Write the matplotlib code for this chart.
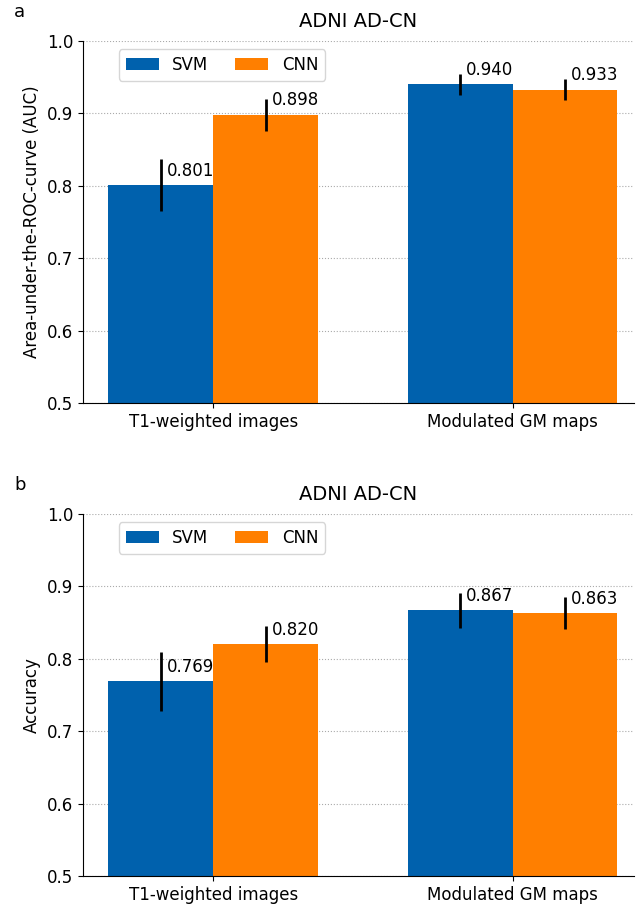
import numpy as np
import matplotlib
matplotlib.use("Agg")
import matplotlib.pyplot as plt

# Données
groupes = ["T1-weighted images", "Modulated GM maps"]
methodes = ["SVM", "CNN"]
couleurs = ["#0061ad", "#ff7f00"]

auc_svm = [0.801, 0.940]
auc_cnn = [0.898, 0.933]
auc_svm_err = [0.036, 0.015]
auc_cnn_err = [0.022, 0.014]

acc_svm = [0.769, 0.867]
acc_cnn = [0.820, 0.863]
acc_svm_err = [0.041, 0.024]
acc_cnn_err = [0.025, 0.022]

panneaux = [
    ("a", "Area-under-the-ROC-curve (AUC)", auc_svm, auc_cnn, auc_svm_err, auc_cnn_err),
    ("b", "Accuracy", acc_svm, acc_cnn, acc_svm_err, acc_cnn_err),
]

plt.rcParams["font.size"] = 12
fig = plt.figure(figsize=(6.36, 9.05), dpi=100)
positions = [[0.1305, 0.5547, 0.866, 0.4], [0.1305, 0.032, 0.866, 0.4]]

largeur = 0.35
x = np.arange(len(groupes))
for (lettre, ylabel, svm, cnn, svm_err, cnn_err), pos in zip(panneaux, positions):
    ax = fig.add_axes(pos)
    for i, (vals, errs) in enumerate([(svm, svm_err), (cnn, cnn_err)]):
        xs = x + (i - 0.5) * largeur
        ax.bar(xs, vals, largeur, color=couleurs[i], label=methodes[i], zorder=2)
        ax.errorbar(xs, vals, yerr=errs, fmt="none", ecolor="black", elinewidth=2, capsize=0, zorder=3)
        for xi, v in zip(xs, vals):
            ax.text(xi + 0.02, v + 0.02, f"{v:.3f}", va="center", ha="left", zorder=4)
    ax.set_ylim(0.5, 1.0)
    ax.set_xlim(-0.435, 1.405)
    ax.set_xticks(x)
    ax.set_xticklabels(groupes)
    ax.set_ylabel(ylabel)
    ax.set_title("ADNI AD-CN", fontsize=14, pad=10)
    ax.yaxis.grid(True, linestyle=":", color="#aaaaaa", zorder=0)
    ax.set_axisbelow(True)
    ax.spines["top"].set_visible(False)
    ax.spines["right"].set_visible(False)
    ax.legend(loc="upper left", bbox_to_anchor=(0.05, 1.0), ncol=2, columnspacing=1.6)
    fig.text(0.022, pos[1] + pos[3] + 0.0325, lettre, fontsize=13, va="center")

plt.savefig("out.png", dpi=100)
